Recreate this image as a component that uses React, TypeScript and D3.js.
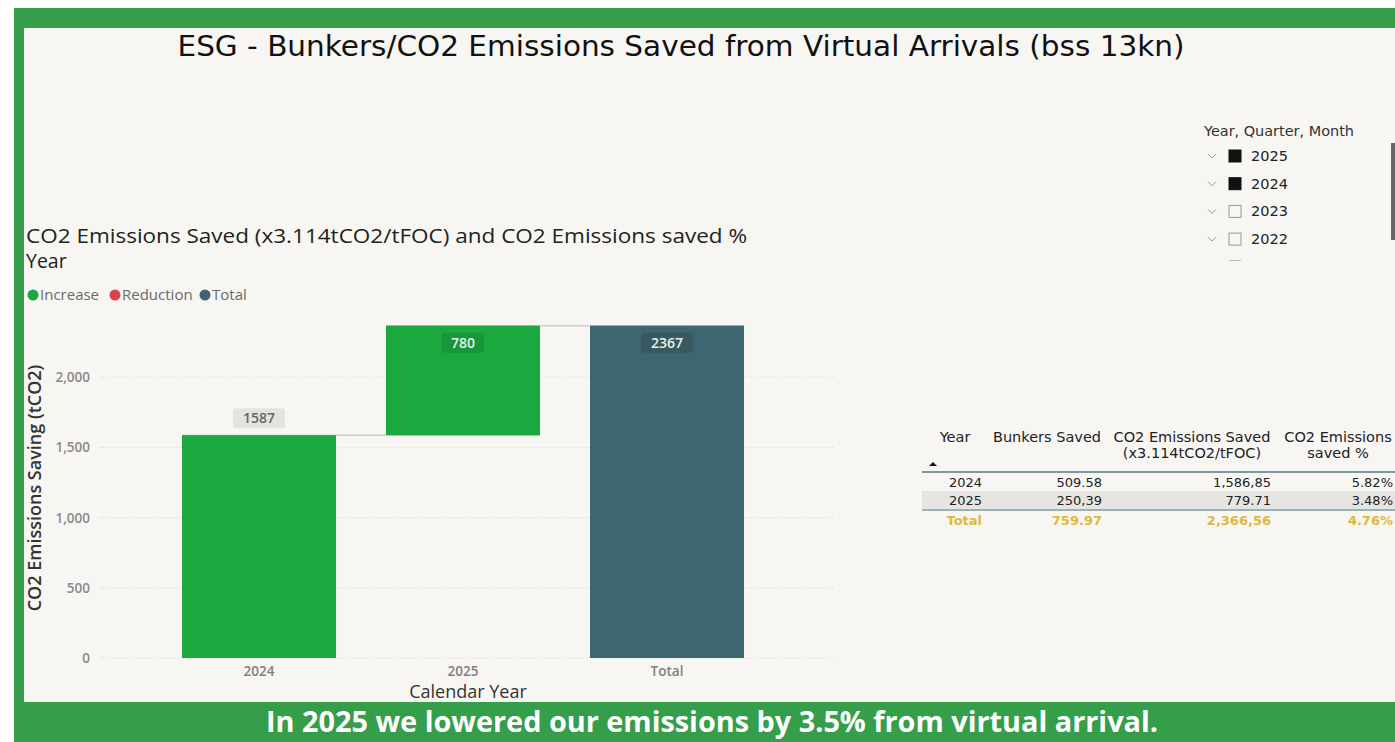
import * as d3 from "d3"

const categories = ["2024", "2025", "Total"]
const barValues = [1587, 780, 2367]
const barKinds = ["increase", "increase", "total"]
const yTicks = [0, 500, 1000, 1500, 2000]

const legendItems = ["Increase", "Reduction", "Total"]
const legendColors = ["#1aa83f", "#d9434f", "#3d6670"]

const slicerYears = ["2025", "2024", "2023", "2022"]
const slicerChecked = [true, true, false, false]

const tableYears = ["2024", "2025"]
const bunkersSaved = ["509.58", "250,39"]
const co2Saved = ["1,586,85", "779.71"]
const savedPct = ["5.82%", "3.48%"]
const totalRow = ["Total", "759.97", "2,366,56", "4.76%"]

const W = 1395
const H = 742
const GREEN = "#359e4b"
const PANEL = "#f7f6f2"
const SANS = "'Open Sans', 'Noto Sans', sans-serif"
const VERD = "'DejaVu Sans', Verdana, sans-serif"

export default function App() {
  // chart scales
  const x = d3.scaleBand<string>().domain(categories).range([132, 794]).paddingInner(0.245).paddingOuter(0.245)
  const y = d3.scaleLinear().domain([0, 2500]).range([658, 307])
  const bw = x.bandwidth()

  // waterfall segments
  let running = 0
  const bars = categories.map((c, i) => {
    let y0: number, y1: number
    if (barKinds[i] === "total") {
      y0 = 0
      y1 = barValues[i]
    } else {
      y0 = running
      y1 = running + barValues[i]
      running = y1
    }
    return { c, y0, y1, kind: barKinds[i], v: barValues[i] }
  })

  const colX = [982, 1102, 1271, 1393]
  const legendX = [33, 115, 205]

  return (
    <svg width={W} height={H} style={{ position: "absolute", left: 0, top: 0 }} fontFamily={SANS}>
      <rect x={0} y={0} width={W} height={H} fill="#ffffff" />
      <rect x={14} y={8} width={W - 14} height={H - 8} fill={GREEN} />
      <rect x={24} y={28} width={W - 24} height={674} fill={PANEL} />

      {/* main title */}
      <text x={681} y={56} textAnchor="middle" fontFamily={VERD} fontSize={28} textLength={1007} lengthAdjust="spacingAndGlyphs" fill="#111">
        ESG - Bunkers/CO2 Emissions Saved from Virtual Arrivals (bss 13kn)
      </text>

      {/* chart title + legend */}
      <text x={26} y={243} fontSize={19.5} textLength={721} lengthAdjust="spacingAndGlyphs" fill="#222">
        CO2 Emissions Saved (x3.114tCO2/tFOC) and CO2 Emissions saved %
      </text>
      <text x={26} y={268} fontSize={19.5} fill="#222">Year</text>
      {legendItems.map((l, i) => (
        <g key={l}>
          <circle cx={legendX[i]} cy={295} r={5.5} fill={legendColors[i]} />
          <text x={legendX[i] + 7} y={300} fontSize={15} fill="#6a6a6a">{l}</text>
        </g>
      ))}

      {/* grid + y ticks */}
      {yTicks.map((t) => (
        <g key={t}>
          <line x1={100} x2={835} y1={y(t)} y2={y(t)} stroke="#d6d5d1" strokeDasharray="1,2" />
          <text x={90} y={y(t) + 5} textAnchor="end" fontSize={13.5} fontWeight={600} fill="#8a8a8a">
            {d3.format(",")(t)}
          </text>
        </g>
      ))}
      <text
        transform={`translate(41,488) rotate(-90)`}
        textAnchor="middle"
        fontSize={18}
        fontWeight={600}
        fill="#333"
      >
        CO2 Emissions Saving (tCO2)
      </text>

      {/* connectors */}
      {bars.slice(0, -1).map((b, i) => (
        <line
          key={"c" + i}
          x1={x(b.c)!}
          x2={x(categories[i + 1])! + bw}
          y1={y(b.y1)}
          y2={y(b.y1)}
          stroke="#cfcecb"
          strokeWidth={1.5}
        />
      ))}

      {/* bars */}
      {bars.map((b) => (
        <rect
          key={b.c}
          x={x(b.c)}
          width={bw}
          y={y(b.y1)}
          height={y(b.y0) - y(b.y1)}
          fill={b.kind === "total" ? legendColors[2] : legendColors[0]}
        />
      ))}

      {/* data labels */}
      {bars.map((b, i) => {
        const cx = x(b.c)! + bw / 2
        const outside = i === 0
        const cy = outside ? y(b.y1) - 17 : y(b.y1) + 17
        const boxFill = outside ? "#e4e3df" : b.kind === "total" ? "#37595f" : "#17973a"
        const txtFill = outside ? "#666" : "#e8efe9"
        const bwid = String(b.v).length * 9.5 + 14
        return (
          <g key={"l" + b.c}>
            <rect x={cx - bwid / 2} y={cy - 10} width={bwid} height={20} rx={3} fill={boxFill} />
            <text x={cx} y={cy + 5} textAnchor="middle" fontSize={14} fontWeight={600} fill={txtFill}>
              {b.v}
            </text>
          </g>
        )
      })}

      {/* x axis */}
      {categories.map((c) => (
        <text key={"x" + c} x={x(c)! + bw / 2} y={676} textAnchor="middle" fontSize={13.5} fontWeight={600} fill="#808080">
          {c}
        </text>
      ))}
      <text x={468} y={698} textAnchor="middle" fontSize={18} fontWeight={500} fill="#333">Calendar Year</text>

      {/* slicer */}
      <text x={1204} y={136} fontFamily={VERD} fontSize={14} textLength={150} lengthAdjust="spacingAndGlyphs" fill="#333">
        Year, Quarter, Month
      </text>
      <g>
        {slicerYears.map((yr, i) => {
          const cy = 156 + i * 27.7
          return (
            <g key={yr}>
              <path d={`M${1208},${cy - 2} l4,4 l4,-4`} fill="none" stroke="#999" strokeWidth={1} />
              <rect
                x={1229}
                y={cy - 6}
                width={12}
                height={12}
                fill={slicerChecked[i] ? "#111" : "none"}
                stroke={slicerChecked[i] ? "#111" : "#999"}
              />
              <text x={1251} y={cy + 5} fontFamily={VERD} fontSize={14} textLength={37} lengthAdjust="spacingAndGlyphs" fill="#222">{yr}</text>
            </g>
          )
        })}
        <line x1={1229} x2={1241} y1={260.5} y2={260.5} stroke="#bbb" />
      </g>
      <rect x={1391} y={143} width={4} height={97} fill="#666" />

      {/* table */}
      <g fontFamily={VERD} fontSize={14.5} fill="#222">
        <text x={955} y={442} textAnchor="middle">Year</text>
        <text x={1047} y={442} textAnchor="middle">Bunkers Saved</text>
        <text x={1192} y={442} textAnchor="middle">CO2 Emissions Saved</text>
        <text x={1192} y={458} textAnchor="middle">(x3.114tCO2/tFOC)</text>
        <text x={1338} y={442} textAnchor="middle">CO2 Emissions</text>
        <text x={1338} y={458} textAnchor="middle">saved %</text>
        <path d="M929,466 l4,-4 l4,4 z" fill="#111" />
        <rect x={922} y={491} width={473} height={18} fill="#e6e5e1" />
        <line x1={922} x2={W} y1={472} y2={472} stroke="#7c9aa0" strokeWidth={2} />
        <line x1={922} x2={W} y1={510} y2={510} stroke="#7c9aa0" strokeWidth={1.5} />
        {tableYears.map((yr, i) => {
          const ty = 487 + i * 18
          const cells = [yr, bunkersSaved[i], co2Saved[i], savedPct[i]]
          return (
            <g key={yr}>
              {cells.map((c, j) => (
                <text key={j} x={colX[j]} y={ty} textAnchor="end" fontSize={13}>{c}</text>
              ))}
            </g>
          )
        })}
        {totalRow.map((c, j) => (
          <text key={"t" + j} x={colX[j]} y={525} textAnchor="end" fontSize={13} fontWeight="bold" fill="#e0b83a">
            {c}
          </text>
        ))}
      </g>

      {/* footer */}
      <text x={712} y={732} textAnchor="middle" fontSize={28} fontWeight="bold" textLength={892} lengthAdjust="spacingAndGlyphs" fill="#ffffff">
        In 2025 we lowered our emissions by 3.5% from virtual arrival.
      </text>
    </svg>
  )
}
